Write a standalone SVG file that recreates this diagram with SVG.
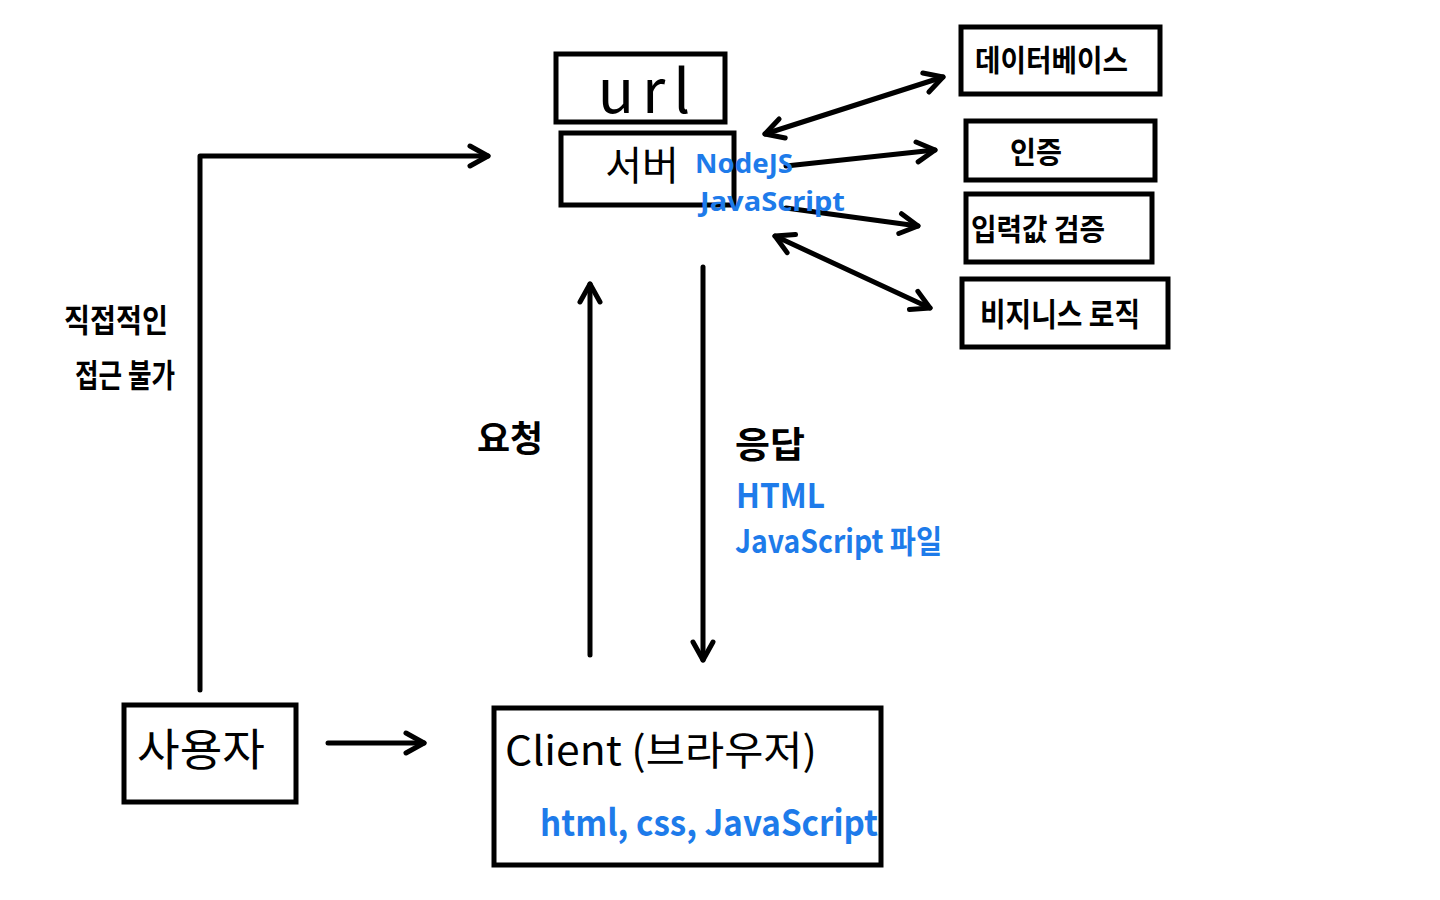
<svg xmlns="http://www.w3.org/2000/svg" width="1440" height="900" viewBox="0 0 1440 900">
<defs>
<style>
.box{fill:none;stroke:#000;stroke-width:5}
.ln{fill:none;stroke:#000;stroke-width:5;stroke-linecap:round;stroke-linejoin:round}
.t{font-family:"Noto Sans CJK KR","Noto Sans",sans-serif;font-weight:700;fill:#000}
.b{font-family:"Noto Sans CJK KR","Noto Sans",sans-serif;font-weight:700;fill:#1E7BEA}
.bl{font-family:"Noto Sans","Noto Sans CJK KR",sans-serif;font-weight:700;fill:#1E7BEA}
.h{font-family:"Noto Sans CJK KR","Noto Sans",sans-serif;font-weight:400;fill:#000}
</style>
<marker id="ah" viewBox="0 0 24 24" refX="21" refY="12" markerWidth="24" markerHeight="24" markerUnits="userSpaceOnUse" orient="auto-start-reverse" overflow="visible">
<path d="M3,2 L21,12 L3,22" fill="none" stroke="#000" stroke-width="5" stroke-linecap="round" stroke-linejoin="round"/>
</marker>
</defs>
<rect width="1440" height="900" fill="#fff"/>

<g id="connectors">
<polyline class="ln" points="200,690 200,156 488,156" marker-end="url(#ah)"/>
<line class="ln" x1="328" y1="743" x2="424" y2="743" marker-end="url(#ah)"/>
<line class="ln" x1="590" y1="655" x2="590" y2="284" marker-end="url(#ah)"/>
<line class="ln" x1="703" y1="267" x2="703" y2="660" marker-end="url(#ah)"/>
<line class="ln" x1="765" y1="134" x2="943" y2="77" marker-start="url(#ah)" marker-end="url(#ah)"/>
<line class="ln" x1="786" y1="166" x2="935" y2="150" marker-end="url(#ah)"/>
<line class="ln" x1="786" y1="208" x2="918" y2="226" marker-end="url(#ah)"/>
<line class="ln" x1="775" y1="236" x2="930" y2="308" marker-start="url(#ah)" marker-end="url(#ah)"/>
</g>

<g id="node-url">
<rect class="box" x="556" y="54" width="169" height="68"/>
<text class="h" x="648" y="113" font-size="60" text-anchor="middle" letter-spacing="8">url</text>
</g>

<g id="node-server">
<rect class="box" x="561" y="133" width="173" height="72"/>
<text class="h" x="642" y="180" font-size="40" text-anchor="middle">서버</text>
<text class="bl" x="695" y="173" font-size="27" textLength="98" lengthAdjust="spacingAndGlyphs">NodeJS</text>
<text class="bl" x="700" y="211" font-size="27" textLength="145" lengthAdjust="spacingAndGlyphs">JavaScript</text>
</g>

<g id="node-db">
<rect class="box" x="961" y="27" width="199" height="67"/>
<text class="t" x="975" y="71" font-size="30" textLength="153" lengthAdjust="spacingAndGlyphs">데이터베이스</text>
</g>

<g id="node-auth">
<rect class="box" x="966" y="121" width="189" height="59"/>
<text class="t" x="1010" y="163" font-size="30" textLength="52" lengthAdjust="spacingAndGlyphs">인증</text>
</g>

<g id="node-validate">
<rect class="box" x="966" y="194" width="186" height="68"/>
<text class="t" x="971" y="240" font-size="30" textLength="134" lengthAdjust="spacingAndGlyphs">입력값 검증</text>
</g>

<g id="node-logic">
<rect class="box" x="962" y="279" width="206" height="68"/>
<text class="t" x="980" y="326" font-size="32" textLength="160" lengthAdjust="spacingAndGlyphs">비지니스 로직</text>
</g>

<g id="label-direct">
<text class="t" x="116" y="332" font-size="32" text-anchor="middle" textLength="104" lengthAdjust="spacingAndGlyphs">직접적인</text>
<text class="t" x="125" y="387" font-size="32" text-anchor="middle" textLength="100" lengthAdjust="spacingAndGlyphs">접근 불가</text>
</g>

<g id="label-request">
<text class="t" x="510" y="452" font-size="36" text-anchor="middle">요청</text>
</g>

<g id="label-response">
<text class="t" x="735" y="458" font-size="36" textLength="70" lengthAdjust="spacingAndGlyphs">응답</text>
<text class="b" x="736" y="508" font-size="34" textLength="89" lengthAdjust="spacingAndGlyphs">HTML</text>
<text class="b" x="735" y="553" font-size="32" textLength="207" lengthAdjust="spacingAndGlyphs">JavaScript 파일</text>
</g>

<g id="node-user">
<rect class="box" x="124" y="705" width="172" height="97"/>
<text class="h" x="137" y="766" font-size="44" textLength="128" lengthAdjust="spacingAndGlyphs">사용자</text>
</g>

<g id="node-client">
<rect class="box" x="494" y="708" width="387" height="157"/>
<text class="h" x="505" y="765" font-size="40" textLength="312" lengthAdjust="spacingAndGlyphs">Client (브라우저)</text>
<text class="b" x="540" y="836" font-size="36" textLength="338" lengthAdjust="spacingAndGlyphs">html, css, JavaScript</text>
</g>
</svg>
